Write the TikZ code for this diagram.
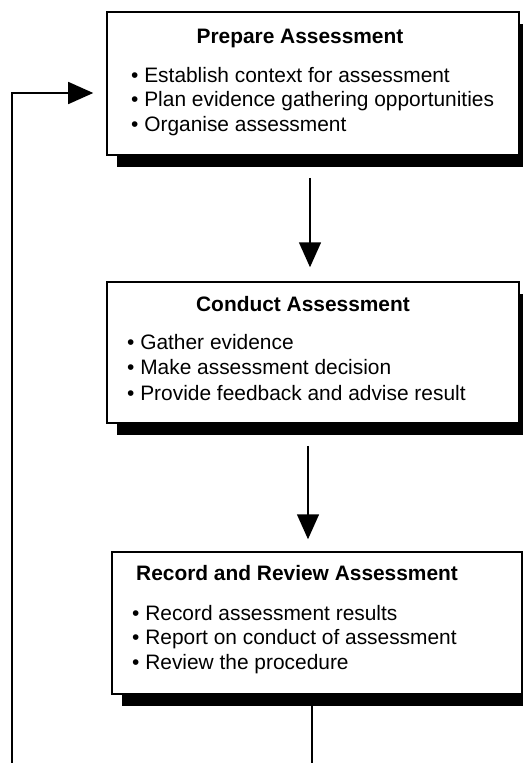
\documentclass[tikz,border=0pt]{standalone}
\usepackage{fontspec}
\setmainfont{Liberation Sans}
\usepackage{tikz}
\usetikzlibrary{arrows.meta, shadows, positioning}

\tikzset{
    stagebox/.style={draw, line width=1.5bp, fill=white, minimum width=412bp,
        inner sep=0pt,
        drop shadow={shadow xshift=10bp, shadow yshift=-12bp, fill=black, opacity=1}},
    stagetitle/.style={font=\fontsize{20.9bp}{25bp}\selectfont\bfseries, inner sep=0pt},
    stageitem/.style={font=\fontsize{20.9bp}{25bp}\selectfont, inner sep=0pt, anchor=base west},
    flow/.style={line width=1.5bp, -{Triangle[width=22bp, length=25bp]}}
}

\begin{document}
\begin{tikzpicture}[x=1bp, y=-1bp]
    \path[use as bounding box, clip] (0,0) rectangle (523,763);

    % 1. Boxes
    \node[stagebox, minimum height=143bp] (prep) at (313,83.5) {};
    \node[stagebox, minimum height=141bp] (cond) at (313,352.5) {};
    \node[stagebox, minimum width=410bp, minimum height=142bp] (rec) at (317,623) {};

    % 2. Titles and bullet points
    \node[stagetitle, anchor=base] (prepT) at (300,44) {Prepare Assessment};
    \foreach \txt [count=\i] in {Establish context for assessment,
            Plan evidence gathering opportunities, Organise assessment} {
        \node[stageitem] (prep\i) at (131,{82+24.5*(\i-1)}) {• \txt};
    }
    \node[stagetitle, anchor=base] (condT) at (303,311) {Conduct Assessment};
    \foreach \txt [count=\i] in {Gather evidence, Make assessment decision,
            Provide feedback and advise result} {
        \node[stageitem] (cond\i) at (127,{349+25.5*(\i-1)}) {• \txt};
    }
    \node[stagetitle, anchor=base west] (recT) at (136,580) {Record and Review Assessment};
    \foreach \txt [count=\i] in {Record assessment results,
            Report on conduct of assessment, Review the procedure} {
        \node[stageitem] (rec\i) at (132,{620+24.5*(\i-1)}) {• \txt};
    }

    % 3. Arrows between the stages
    \draw[flow, shorten <=22bp, shorten >=14bp]
        ([xshift=-3bp]prep.south) -- ([xshift=-3bp]prep.south |- cond.north);
    \draw[flow, shorten <=22bp, shorten >=12bp]
        ([xshift=-5bp]cond.south) -- ([xshift=-5bp]cond.south |- rec.north);

    % 4. Loop back to the start
    \coordinate (loopR) at (312,770);
    \coordinate (loopL) at (12,770);
    \draw[line width=1.5bp] (rec.south -| loopR) -- (loopR);
    \draw[flow, shorten >=13bp] (loopL) |- ([yshift=-9.5bp]prep.west);
\end{tikzpicture}
\end{document}
